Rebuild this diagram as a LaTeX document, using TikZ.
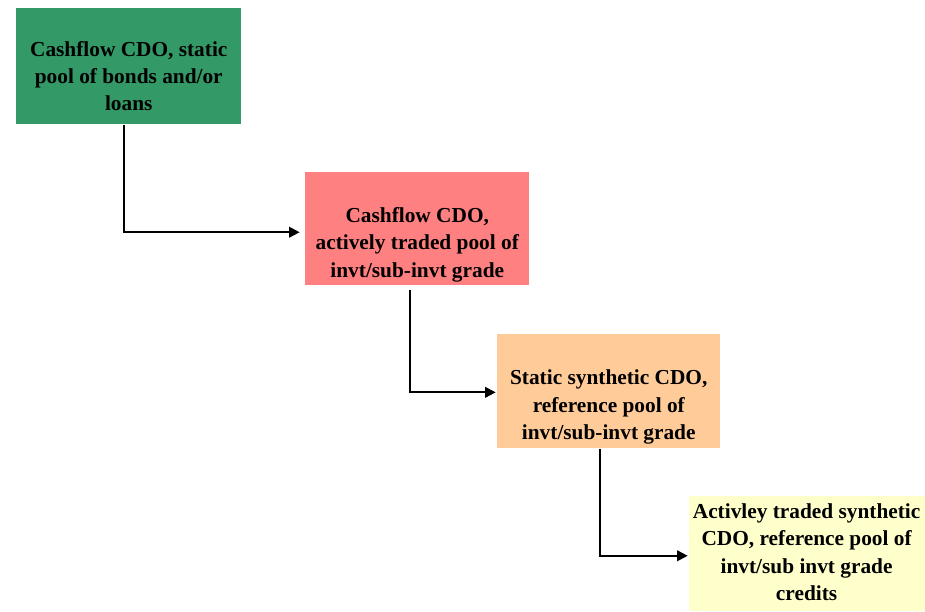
\documentclass[tikz,border=0pt]{standalone}
\usepackage{fontspec}
\setmainfont{Liberation Serif}
\usetikzlibrary{arrows.meta,positioning}
\definecolor{cdogreen}{HTML}{339966}
\definecolor{cdopink}{HTML}{FF8080}
\definecolor{cdoorange}{HTML}{FFCC99}
\definecolor{cdoyellow}{HTML}{FFFFCC}

\begin{document}
\begin{tikzpicture}[x=0.75pt,y=-0.75pt,
		box/.style={draw=none,inner sep=0pt,anchor=north west},
		boxtext/.style={anchor=south,align=center,font=\bfseries\fontsize{16}{20.5}\selectfont,inner sep=0pt},
		link/.style={line width=1.5pt,-{Triangle[length=8pt,width=8pt]}}]
			\useasboundingbox (0,0) rectangle (925,611);
			% boxes
			\node[box,fill=cdogreen,minimum width=225*0.75pt,minimum height=116*0.75pt] (static) at (16,8) {};
			\node[box,fill=cdopink,minimum width=224*0.75pt,minimum height=113*0.75pt] (active) at (305,172) {};
			\node[box,fill=cdoorange,minimum width=223*0.75pt,minimum height=114*0.75pt] (synth) at (497,334) {};
			\node[box,fill=cdoyellow,minimum width=240*0.75pt,minimum height=115*0.75pt] (traded) at (689,496) {};
			% texts
			\node[boxtext] (statictext) at ([yshift=10pt]static.south) {Cashflow CDO, static\\pool of bonds and/or\\loans};
			\node[boxtext] (activetext) at ([yshift=2.5pt]active.south) {Cashflow CDO,\\actively traded pool of\\invt/sub-invt grade};
			\node[boxtext] (synthtext) at ([yshift=3pt]synth.south) {Static synthetic CDO,\\reference pool of\\invt/sub-invt grade};
			\node[boxtext] (tradedtext) at ([xshift=-2pt,yshift=8pt]traded.south) {Activley traded synthetic\\CDO, reference pool of\\invt/sub invt grade\\credits};
			% connectors
			\draw[link] ([xshift=-3.4pt]static.south) |- ([xshift=-4pt,yshift=-2.6pt]active.west);
			\draw[link] ([xshift=-5.3pt,yshift=-3pt]active.south) |- ([xshift=-1pt,yshift=-0.8pt]synth.west);
			\draw[link] ([xshift=-6.4pt]synth.south) |- ([xshift=-1pt,yshift=-1.5pt]traded.west);
		\end{tikzpicture}
\end{document}
